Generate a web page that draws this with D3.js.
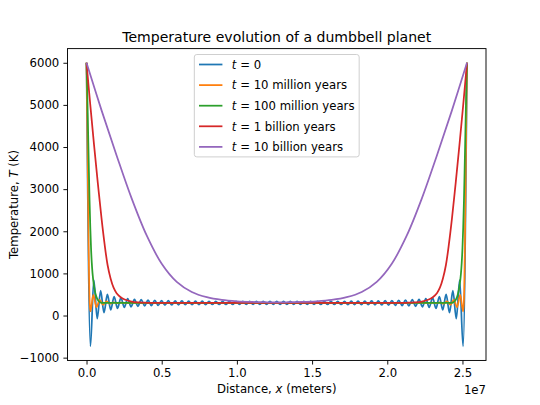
<!DOCTYPE html>
<html>
<head>
<meta charset="utf-8">
<script src="https://cdnjs.cloudflare.com/ajax/libs/d3/7.8.5/d3.min.js"></script>
<style>
  body { margin: 0; background: #fff; }
  svg { font-family: "DejaVu Sans", sans-serif; }
</style>
</head>
<body>
<div id="chart"></div>
<script>
// distance in units of 1e7 m, temperature in K
const labels = ['0', '10 million years', '100 million years', '1 billion years', '10 billion years'];
const colors = ['#1f77b4', '#ff7f0e', '#2ca02c', '#d62728', '#9467bd'];
const xTicks = [0, 0.5, 1.0, 1.5, 2.0, 2.5];
const yTicks = [-1000, 0, 1000, 2000, 3000, 4000, 5000, 6000];

const tempT0 = [
  [0, 6000],
  [0.026, -730], [0.0485, 840], [0.0711, -75], [0.0936, 590], [0.1161, 70], [0.1386, 500], [0.1612, 135], [0.1837, 450], [0.2062, 170], [0.2287, 420],
  [0.2513, 192], [0.2738, 400], [0.2963, 208], [0.3189, 386], [0.3414, 220], [0.3639, 375], [0.3864, 229], [0.409, 367], [0.4315, 236], [0.454, 360],
  [0.4765, 242], [0.4991, 355], [0.5216, 246], [0.5441, 351], [0.5667, 250], [0.5892, 348], [0.6117, 253], [0.6342, 345], [0.6568, 256], [0.6793, 343],
  [0.7018, 258], [0.7243, 341], [0.7469, 260], [0.7694, 339], [0.7919, 261], [0.8145, 338], [0.837, 262], [0.8595, 337], [0.882, 263], [0.9046, 336],
  [0.9271, 264], [0.9496, 336], [0.9721, 264], [0.9947, 335], [1.0172, 265], [1.0397, 335], [1.0623, 265], [1.0848, 335], [1.1073, 265], [1.1298, 335],
  [1.1524, 265], [1.1749, 335], [1.1974, 265], [1.2199, 335], [1.2425, 265], [1.265, 335],
  [1.2875, 265], [1.3101, 335], [1.3326, 265], [1.3551, 335], [1.3776, 265], [1.4002, 335], [1.4227, 265], [1.4452, 335], [1.4677, 265], [1.4903, 335],
  [1.5128, 265], [1.5353, 335], [1.5579, 264], [1.5804, 336], [1.6029, 264], [1.6254, 336], [1.648, 263], [1.6705, 337], [1.693, 262], [1.7155, 338],
  [1.7381, 261], [1.7606, 339], [1.7831, 260], [1.8057, 341], [1.8282, 258], [1.8507, 343], [1.8732, 256], [1.8958, 345], [1.9183, 253], [1.9408, 348],
  [1.9633, 250], [1.9859, 351], [2.0084, 246], [2.0309, 355], [2.0535, 242], [2.076, 360], [2.0985, 236], [2.121, 367], [2.1436, 229], [2.1661, 375],
  [2.1886, 220], [2.2111, 386], [2.2337, 208], [2.2562, 400], [2.2787, 192], [2.3013, 420], [2.3238, 170], [2.3463, 450], [2.3688, 135], [2.3914, 500],
  [2.4139, 70], [2.4364, 590], [2.4589, -75], [2.4815, 840], [2.504, -730],
  [2.53, 6000]
];

const temp10My = [
  [0, 6000], [0.005, 4600], [0.009, 3200], [0.013, 1900], [0.017, 900], [0.021, 300], [0.026, 100],
  [0.045, 490], [0.066, 200], [0.088, 370], [0.11, 255], [0.133, 335], [0.156, 280], [0.18, 315],
  [0.205, 292], [0.23, 305], [0.26, 298], [0.3, 300], [1.265, 300],
  [2.23, 300], [2.27, 298], [2.3, 305], [2.325, 292], [2.35, 315], [2.374, 280], [2.397, 335],
  [2.42, 255], [2.442, 370], [2.464, 200], [2.485, 490], [2.504, 100], [2.509, 300], [2.513, 900],
  [2.517, 1900], [2.521, 3200], [2.525, 4600], [2.53, 6000]
];

const temp100My = [
  [0, 6000], [0.004, 5450], [0.008, 4800], [0.012, 4100], [0.016, 3400], [0.02, 2750], [0.025, 2100],
  [0.03, 1600], [0.035, 1250], [0.04, 1000], [0.05, 690], [0.06, 510], [0.07, 405], [0.08, 345],
  [0.09, 315], [0.1, 303], [0.12, 300], [1.265, 300],
  [2.41, 300], [2.43, 303], [2.44, 315], [2.45, 345], [2.46, 405], [2.47, 510], [2.48, 690],
  [2.49, 1000], [2.495, 1250], [2.5, 1600], [2.505, 2100], [2.51, 2750], [2.514, 3400],
  [2.518, 4100], [2.522, 4800], [2.526, 5450], [2.53, 6000]
];

const temp1By = [
  [0, 6000], [0.025, 5000], [0.05, 4050], [0.075, 3150], [0.1, 2300], [0.12, 1700], [0.14, 1200],
  [0.16, 880], [0.18, 660], [0.2, 530], [0.225, 440], [0.25, 385], [0.3, 330], [0.35, 310],
  [0.4, 303], [0.5, 300], [1.265, 300],
  [2.03, 300], [2.13, 303], [2.18, 310], [2.23, 330], [2.28, 385], [2.305, 440], [2.33, 530],
  [2.35, 660], [2.37, 880], [2.39, 1200], [2.41, 1700], [2.43, 2300], [2.455, 3150], [2.48, 4050],
  [2.505, 5000], [2.53, 6000]
];

const temp10By = [
  [0, 6000], [0.1, 4870], [0.2, 3800], [0.3, 2780], [0.4, 1900], [0.5, 1230], [0.6, 800],
  [0.7, 560], [0.8, 435], [0.9, 370], [1.0, 338], [1.1, 322], [1.2, 315], [1.265, 313],
  [1.33, 315], [1.43, 322], [1.53, 338], [1.63, 370], [1.73, 435], [1.83, 560], [1.93, 800],
  [2.03, 1230], [2.13, 1900], [2.23, 2780], [2.33, 3800], [2.43, 4870], [2.53, 6000]
];

const series = [tempT0, temp10My, temp100My, temp1By, temp10By];
// oscillating curves keep flat extrema, the smooth ones use a spline
const curves = [d3.curveMonotoneX, d3.curveMonotoneX, d3.curveMonotoneX,
  d3.curveCatmullRom.alpha(0.5), d3.curveCatmullRom.alpha(0.5)];

const width = 540;
const height = 405;
const plot = { left: 67.5, right: 486, top: 48.6, bottom: 360.45 };
const fontSize = 11.7;

const svg = d3.select('#chart').append('svg')
  .attr('width', width)
  .attr('height', height);

// matplotlib-style 5% margins around the data
const allPts = series.flat();
const xExt = d3.extent(allPts, d => d[0]);
const yExt = d3.extent(allPts, d => d[1]);
const xPad = (xExt[1] - xExt[0]) * 0.05;
const yPad = (yExt[1] - yExt[0]) * 0.05;

const x = d3.scaleLinear()
  .domain([xExt[0] - xPad, xExt[1] + xPad])
  .range([plot.left, plot.right]);
const y = d3.scaleLinear()
  .domain([yExt[0] - yPad, yExt[1] + yPad])
  .range([plot.bottom, plot.top]);

svg.append('clipPath').attr('id', 'clip')
  .append('rect')
  .attr('x', plot.left).attr('y', plot.top)
  .attr('width', plot.right - plot.left)
  .attr('height', plot.bottom - plot.top);

svg.append('g')
  .attr('clip-path', 'url(#clip)')
  .selectAll('path')
  .data(series)
  .enter().append('path')
  .attr('d', (d, i) => d3.line()
    .x(p => x(p[0]))
    .y(p => y(p[1]))
    .curve(curves[i])(d))
  .attr('fill', 'none')
  .attr('stroke', (d, i) => colors[i])
  .attr('stroke-width', 1.75)
  .attr('stroke-linejoin', 'round');

// axes
const xAxis = svg.append('g')
  .attr('transform', `translate(0,${plot.bottom})`)
  .call(d3.axisBottom(x).tickValues(xTicks).tickFormat(d3.format('.1f'))
    .tickSize(4.1).tickPadding(4.1).tickSizeOuter(0));
const yAxis = svg.append('g')
  .attr('transform', `translate(${plot.left},0)`)
  .call(d3.axisLeft(y).tickValues(yTicks).tickFormat(d3.format('d'))
    .tickSize(4.1).tickPadding(4.1).tickSizeOuter(0));

[xAxis, yAxis].forEach((ax) => {
  ax.select('.domain').remove();
  ax.selectAll('line').attr('stroke', '#000').attr('stroke-width', 0.94);
  ax.selectAll('text')
    .attr('fill', '#000')
    .style('font-family', '"DejaVu Sans", sans-serif')
    .style('font-size', `${fontSize}px`);
});

svg.append('rect')
  .attr('x', plot.left).attr('y', plot.top)
  .attr('width', plot.right - plot.left)
  .attr('height', plot.bottom - plot.top)
  .attr('fill', 'none')
  .attr('stroke', '#000')
  .attr('stroke-width', 0.94);

// offset text
svg.append('text')
  .attr('x', plot.right).attr('y', 393.5)
  .attr('text-anchor', 'end')
  .style('font-size', `${fontSize}px`)
  .text('1e7');

// title and labels
svg.append('text')
  .attr('x', (plot.left + plot.right) / 2).attr('y', 41.5)
  .attr('text-anchor', 'middle')
  .style('font-size', '14.06px')
  .text('Temperature evolution of a dumbbell planet');

const xLabel = svg.append('text')
  .attr('x', (plot.left + plot.right) / 2).attr('y', 393)
  .attr('text-anchor', 'middle')
  .style('font-size', `${fontSize}px`);
xLabel.append('tspan').text('Distance, ');
xLabel.append('tspan').attr('font-style', 'italic').text('x');
xLabel.append('tspan').text(' (meters)');

const yLabel = svg.append('text')
  .attr('transform', `translate(17.5,${(plot.top + plot.bottom) / 2}) rotate(-90)`)
  .attr('text-anchor', 'middle')
  .style('font-size', `${fontSize}px`);
yLabel.append('tspan').text('Temperature, ');
yLabel.append('tspan').attr('font-style', 'italic').text('T');
yLabel.append('tspan').text(' (K)');

// legend, upper center
const pad = 4.7;
const handleLen = 23.4;
const handlePad = 9.4;
const rowH = 20.6;
const legTop = plot.top + 5.9;
const firstRow = 10;

const legend = svg.append('g');
const frame = legend.append('rect')
  .attr('fill', '#fff')
  .attr('fill-opacity', 0.8)
  .attr('stroke', '#cccccc')
  .attr('stroke-width', 0.94)
  .attr('rx', 2.5);

const rows = legend.selectAll('.row')
  .data(labels)
  .enter().append('g')
  .attr('class', 'row')
  .attr('transform', (d, i) => `translate(0,${legTop + firstRow + i * rowH})`);

rows.append('line')
  .attr('x1', pad).attr('x2', pad + handleLen)
  .attr('stroke', (d, i) => colors[i])
  .attr('stroke-width', 1.75);

const texts = rows.append('text')
  .attr('x', pad + handleLen + handlePad)
  .attr('y', 4.3)
  .style('font-size', `${fontSize}px`);
texts.append('tspan').attr('font-style', 'italic').text('t');
texts.append('tspan').text(d => ` = ${d}`);

let maxW = 0;
texts.each(function () { maxW = Math.max(maxW, this.getComputedTextLength()); });
const legW = pad + handleLen + handlePad + maxW + pad;
const legH = 2 * firstRow + 4 * rowH;
const legLeft = (plot.left + plot.right) / 2 - legW / 2;
frame.attr('x', 0).attr('y', legTop).attr('width', legW).attr('height', legH);
legend.attr('transform', `translate(${legLeft},0)`);
</script>
</body>
</html>
